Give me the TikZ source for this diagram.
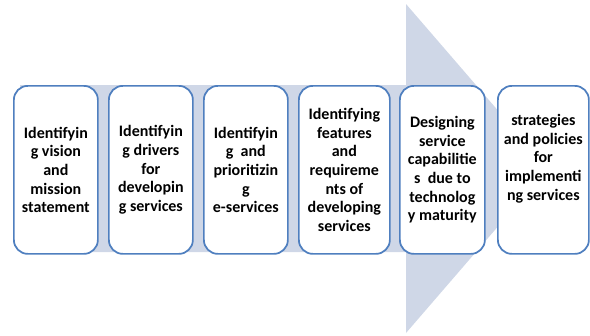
\documentclass[tikz,border=0pt]{standalone}
\usepackage{fontspec}
\setmainfont{Carlito}
\definecolor{boxline}{HTML}{4F7FBF}
\definecolor{arrowfill}{HTML}{CFD7E7}
\begin{document}
\begin{tikzpicture}[x=0.75pt,y=-0.75pt,
  stepbox/.style={draw=boxline,line width=1.3pt,fill=white,rounded corners=10.5pt,
    align=center,font=\bfseries\fontsize{12}{14}\selectfont,inner sep=0pt,anchor=north west}]
\useasboundingbox (0,0) rectangle (590,336);
\fill[arrowfill] (20,85) -- (406,85) -- (406,4) -- (548,168.5) -- (406,333) -- (406,252) -- (20,252) -- cycle;
\node[stepbox,minimum width=63pt,minimum height=126pt] (s1) at (13,85) {Identifyin\\g vision\\and\\mission\\statement};
\node[stepbox,minimum width=63pt,minimum height=126pt] (s2) at (108,85) {Identifyin\\g drivers\\for\\developin\\g services};
\node[stepbox,minimum width=63pt,minimum height=126pt] (s3) at (203,85) {Identifyin\\g\ \ and\\prioritizin\\g\\e-services};
\node[stepbox,minimum width=68.25pt,minimum height=126pt] (s4) at (298,85) {Identifying\\features\\and\\requireme\\nts of\\developing\\services};
\node[stepbox,minimum width=63.75pt,minimum height=126pt] (s5) at (399,85) {Designing\\service\\capabilitie\\s\ \ due to\\technolog\\y maturity};
\node[stepbox,minimum width=68.25pt,minimum height=126pt] (s6) at (497,85) {strategies\\and policies\\for\\implementi\\ng services\\[5pt]};
\end{tikzpicture}
\end{document}
